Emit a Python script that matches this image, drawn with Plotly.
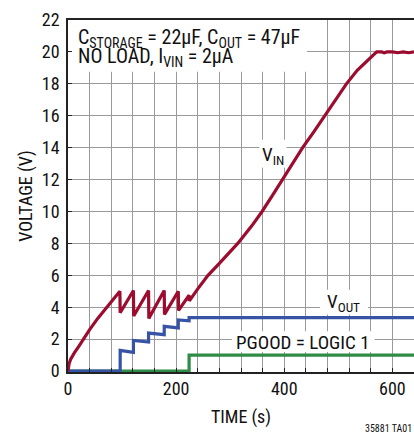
import plotly.graph_objects as go

# ---- data ----
vin_t = [0, 2, 5, 8, 12, 20, 27, 40, 55, 71, 85, 96,
         96.5, 121, 121.5, 149, 149.5, 178, 178.5, 204, 204.5, 224,
         224.5, 240, 259, 280, 300, 314, 340, 359, 380, 397, 415, 434,
         455, 475, 495, 515, 535, 552, 562, 571, 580, 585, 590, 600, 610, 620, 630, 640]
vin_v = [0, 0.45, 0.75, 0.95, 1.15, 1.55, 1.95, 2.6, 3.3, 4.0, 4.55, 5.0,
         3.65, 5.05, 3.45, 5.05, 3.3, 5.05, 3.55, 5.0, 3.8, 4.75,
         4.4, 5.15, 6.0, 6.75, 7.5, 8.0, 9.1, 10.0, 11.1, 12.0, 13.0, 14.0,
         15.0, 16.0, 17.0, 18.0, 18.85, 19.4, 19.75, 20.0, 20.0, 19.95, 20.0, 20.0, 19.95, 20.0, 19.95, 20.0]

vout_t = [0, 96.5, 96.5, 121, 121, 149, 149, 178, 178, 204, 204, 224, 224, 640]
vout_v = [0, 0, 1.3, 1.17, 1.92, 1.82, 2.38, 2.28, 2.8, 2.7, 3.2, 3.15, 3.35, 3.35]

pgood_t = [0, 224, 224, 640]
pgood_v = [0, 0, 1.0, 1.0]

x_ticks = [0, 200, 400, 600]
y_ticks = list(range(0, 23, 2))

RED = "#9c0c2f"
BLUE = "#3653a5"
GREEN = "#2f8c46"
FONT = "Liberation Sans Narrow, Roboto Condensed, Arial Narrow, Liberation Sans, sans-serif"

fig = go.Figure()
fig.add_trace(go.Scatter(x=pgood_t, y=pgood_v, mode="lines",
                         line=dict(color=GREEN, width=3.2), showlegend=False))
fig.add_trace(go.Scatter(x=vout_t, y=vout_v, mode="lines",
                         line=dict(color=BLUE, width=3.2), showlegend=False))
fig.add_trace(go.Scatter(x=vin_t, y=vin_v, mode="lines",
                         line=dict(color=RED, width=3.2), showlegend=False))

# white boxes under labels (cover gridlines)
boxes = [
    (0.5, 442, 18.75, 22),      # top info box
    (354, 404, 12.75, 14.5),    # VIN
    (466, 555, 3.55, 5.1),      # VOUT
    (303, 567, 1.19, 2.5),      # PGOOD
]
for x0, x1, y0, y1 in boxes:
    fig.add_shape(type="rect", xref="x", yref="y", x0=x0, x1=x1, y0=y0, y1=y1,
                  fillcolor="white", line=dict(width=0), layer="between")

tf = dict(family=FONT, size=19, color="#111")
tf_big = dict(family=FONT, size=20, color="#111")
fig.add_annotation(x=14, y=20.9, xref="x", yref="y", xanchor="left", yanchor="middle",
                   text="C<sub>STORAGE</sub> = 22µF, C<sub>OUT</sub> = 47µF",
                   showarrow=False, font=tf_big)
fig.add_annotation(x=14, y=19.7, xref="x", yref="y", xanchor="left", yanchor="middle",
                   text="NO LOAD, I<sub>VIN</sub> = 2µA",
                   showarrow=False, font=tf_big)
fig.add_annotation(x=379, y=13.5, xref="x", yref="y", text="V<sub>IN</sub>",
                   showarrow=False, font=tf)
fig.add_annotation(x=510, y=4.3, xref="x", yref="y", text="V<sub>OUT</sub>",
                   showarrow=False, font=tf)
fig.add_annotation(x=435, y=1.8, xref="x", yref="y", text="PGOOD = LOGIC 1",
                   showarrow=False, font=tf)
fig.add_annotation(x=1, y=0, xref="paper", yref="paper", yshift=-64,
                   xanchor="right", yanchor="bottom", text="35881 TA01",
                   showarrow=False, font=dict(family=FONT, size=10, color="#111"))

fig.update_xaxes(range=[0, 640], tickvals=x_ticks, showgrid=True,
                 gridcolor="#9a9a9a", gridwidth=1.2,
                 minor=dict(dtick=40, showgrid=True, gridcolor="#9a9a9a", gridwidth=1.2,
                            ticks="inside", ticklen=4, tickcolor="#222"),
                 showline=True, linecolor="#222", linewidth=1.5, mirror=True,
                 ticks="inside", ticklen=4, tickcolor="#222",
                 zeroline=False,
                 tickfont=dict(family=FONT, size=18, color="#111"),
                 title=dict(text="TIME (s)", font=dict(family=FONT, size=18, color="#111"),
                            standoff=12))
fig.update_yaxes(range=[-0.06, 22], tickvals=y_ticks, showgrid=True,
                 gridcolor="#9a9a9a", gridwidth=1.2,
                 showline=True, linecolor="#222", linewidth=1.5,
                 ticks="inside", ticklen=4, tickcolor="#222",
                 zeroline=False, ticklabelstandoff=3,
                 tickfont=dict(family=FONT, size=18, color="#111"),
                 title=dict(text="VOLTAGE (V)", font=dict(family=FONT, size=18, color="#111"),
                            standoff=5))

fig.update_layout(width=414, height=438,
                  margin=dict(l=68, r=0, t=20, b=66, autoexpand=False),
                  paper_bgcolor="white", plot_bgcolor="white",
                  showlegend=False)

fig.write_html("out.html", config={"displayModeBar": False},
               post_script="document.body.style.margin='0';document.body.style.overflow='hidden';")
